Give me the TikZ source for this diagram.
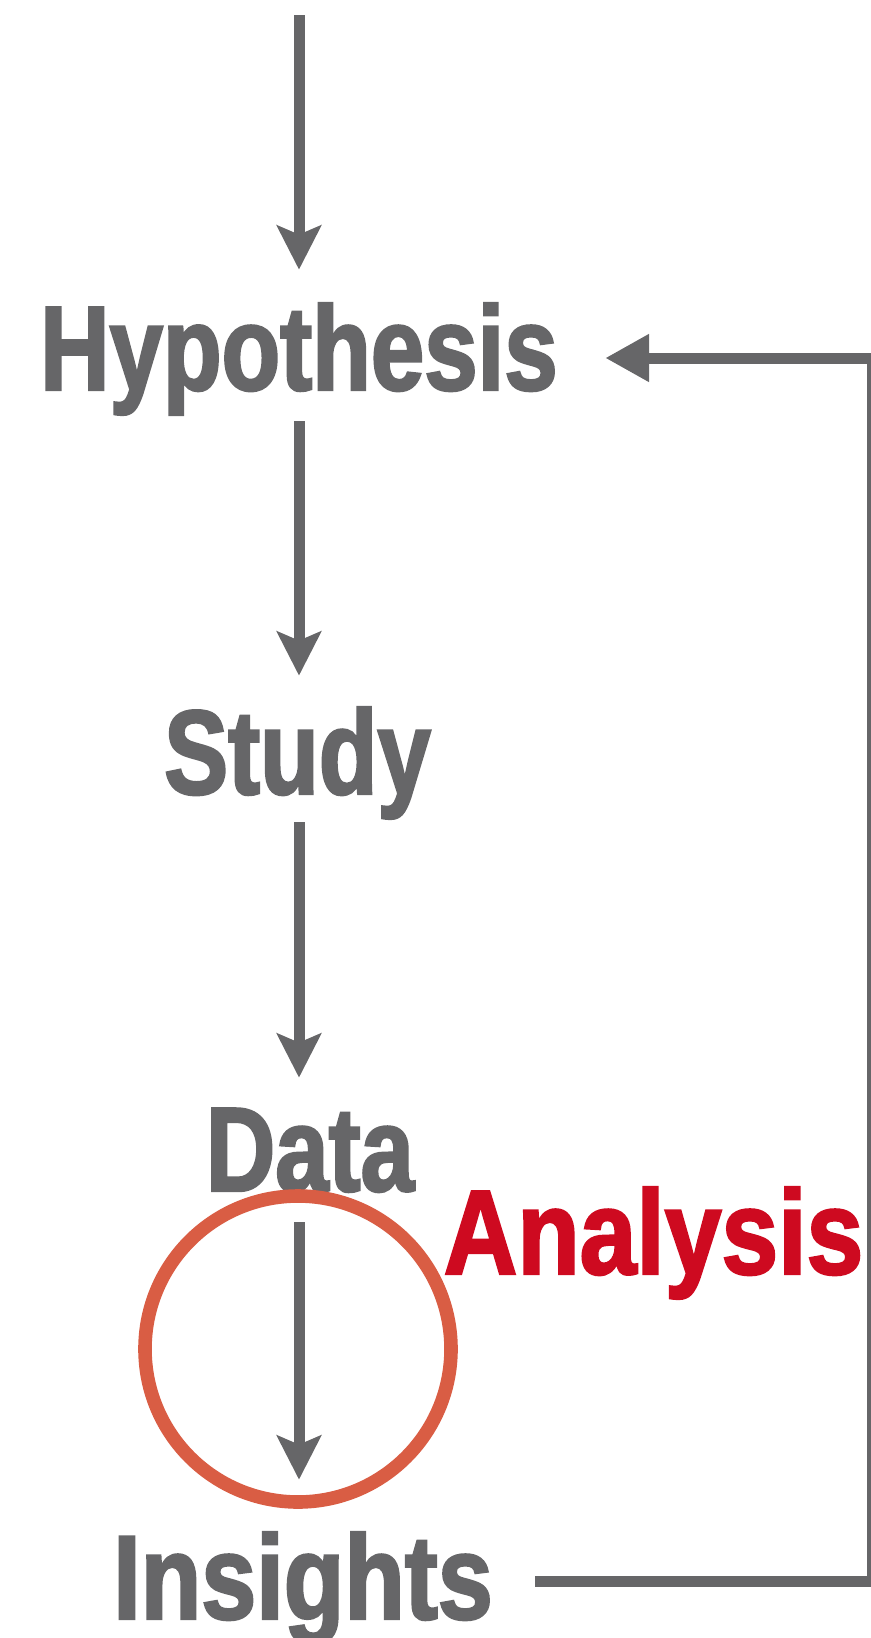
\documentclass[tikz,border=0pt]{standalone}
\usepackage{fontspec}
\newfontfamily\flowfont{Liberation Sans}[FakeStretch=0.8, BoldFeatures={FakeBold=2}]
\newfontfamily\insightfont{Liberation Sans}[FakeStretch=0.825, BoldFeatures={FakeBold=2}]
\newfontfamily\analysisfont{Liberation Sans}[FakeStretch=0.85, BoldFeatures={FakeBold=2}]
\definecolor{FlowGrey}{RGB}{102, 102, 104}
\definecolor{AnalysisRed}{RGB}{206, 10, 32}
\definecolor{RingOrange}{RGB}{217, 93, 68}
\usetikzlibrary{arrows.meta, positioning, calc}
\tikzset{
  stage/.style={
    text=FlowGrey, inner sep=0pt, anchor=base,
    text height=43pt, text depth=0pt,
    font=\flowfont\fontsize{60}{60}\selectfont\bfseries
  },
  flow/.style={line width=5.5pt, color=FlowGrey, -{Stealth[length=22pt, width=22pt, inset=4.5pt]}},
  loopback/.style={line width=5.5pt, color=FlowGrey, -{Triangle[length=22pt, width=22.5pt]}},
  ring/.style={circle, draw=RingOrange, line width=6.8pt, minimum size=153pt, inner sep=0pt},
}

\begin{document}
\begin{tikzpicture}[x=0.5pt, y=-0.5pt]
\useasboundingbox (0,0) rectangle (871,1638);

\coordinate (start) at (299,15);
\node[stage] (hyp) at (299,390) {Hypothesis};
\node[stage] (study) at (297.5,794) {Study};
\node[stage] (data) at (310,1191) {Data};
\node[stage, text=AnalysisRed, font=\analysisfont\fontsize{60}{60}\selectfont\bfseries] (analysis) at (653.5,1274) {Analysis};
\node[stage, font=\insightfont\fontsize{60}{60}\selectfont\bfseries] (insights) at (303,1619) {Insights};
\node[ring] (ring) at (298,1349) {};

% Flow
\draw[flow, shorten >=17pt] (start) -- (start |- hyp.north);
\draw[flow, shorten <=15.5pt, shorten >=16pt] (hyp.south) -- (hyp.south |- study.north);
\draw[flow, shorten <=14pt, shorten >=13.5pt] (hyp.south |- study.south) -- (hyp.south |- data.north);
\draw[flow, shorten <=15.5pt, shorten >=26.5pt] (hyp.south |- data.south) -- (hyp.south |- insights.north);

% Loop back
\coordinate (lowcorner) at (872,1581.5);
\coordinate (highcorner) at (872,358);
\draw[loopback, shorten <=21pt, shorten >=23.5pt]
  (insights.east |- lowcorner) -- (lowcorner) -- (highcorner) -- (hyp.east |- highcorner);
\end{tikzpicture}
\end{document}
